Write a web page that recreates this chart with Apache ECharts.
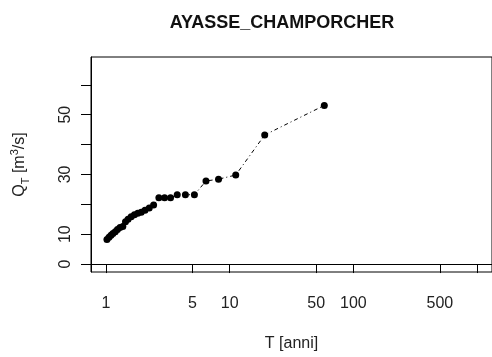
<!DOCTYPE html>
<html>
<head>
<meta charset="utf-8">
<script src="https://cdn.jsdelivr.net/npm/echarts@6/dist/echarts.min.js"></script>
<style>html,body{margin:0;padding:0;background:#fff;}#c{width:492px;height:357px;}</style>
</head>
<body>
<div id="c"></div>
<script>
var titleText = 'AYASSE_CHAMPORCHER';
var returnPeriod = [1.02,1.06,1.10,1.14,1.19,1.24,1.30,1.37,1.44,1.51,1.60,1.70,1.81,1.93,2.07,2.24,2.43,2.68,2.98,3.33,3.77,4.39,5.19,6.44,8.13,11.2,19.2,58.2];
var discharge = [8.2,9.0,9.6,10.2,10.8,11.6,12.2,12.6,14.2,15.0,15.8,16.5,17.0,17.3,18.0,18.8,19.8,22.2,22.2,22.2,23.2,23.2,23.2,27.8,28.4,29.8,43.2,53.1];
var xTickValues = [1,5,10,50,100,500,1000];
var xLabelValues = [1,5,10,50,100,500];
var yTickValues = [0,10,20,30,40,50,60];
var yLabelValues = [0,10,30,50];

var pts = returnPeriod.map(function(t,i){return [t, discharge[i]];});
var chart = echarts.init(document.getElementById('c'), null, {renderer:'canvas'});
var txt = '#222';
chart.setOption({
  animation:false,
  backgroundColor:'#fff',
  title:{text:titleText, left:277, textAlign:'center', top:9,
    textStyle:{fontFamily:'Liberation Sans', fontWeight:'bold', fontSize:18, color:'#111'}},
  grid:{left:91, top:57, width:403, bottom:83, show:true, borderColor:'#000', borderWidth:1},
  xAxis:{type:'log', logBase:10, min:0.758, max:1318,
    name:'T [anni]', nameLocation:'middle', nameGap:64,
    nameTextStyle:{fontFamily:'Liberation Sans', fontSize:16, color:txt},
    axisLine:{show:true, lineStyle:{color:'#000', width:1}},
    axisTick:{show:true, inside:false, length:9, customValues:xTickValues, lineStyle:{color:'#000'}},
    axisLabel:{customValues:xLabelValues, margin:24, fontFamily:'Liberation Sans', fontSize:16, color:txt, showMinLabel:true, showMaxLabel:true},
    splitLine:{show:false}, minorTick:{show:false}},
  yAxis:{type:'value', min:-2.66, max:69.3,
    name:'{q|Q}{sub|T}{q| [m}{sup|3}{q|/s]}', nameLocation:'middle', nameRotate:90, nameGap:60,
    nameTextStyle:{fontFamily:'Liberation Sans', fontSize:16, color:txt,
      rich:{q:{fontFamily:'Liberation Sans', fontSize:16, lineHeight:22, color:txt},
            sub:{fontFamily:'Liberation Sans', fontSize:11, lineHeight:11, verticalAlign:'bottom', color:txt},
            sup:{fontFamily:'Liberation Sans', fontSize:11, lineHeight:11, verticalAlign:'top', color:txt}}},
    axisLine:{show:true, lineStyle:{color:'#000', width:1}},
    axisTick:{show:true, inside:false, length:10, customValues:yTickValues, lineStyle:{color:'#000'}},
    axisLabel:{customValues:yLabelValues, rotate:90, margin:17, fontFamily:'Liberation Sans', fontSize:16, color:txt},
    splitLine:{show:false}},
  series:[{type:'line', data:pts, symbol:'circle', symbolSize:7, showSymbol:true,
    itemStyle:{color:'#000'},
    lineStyle:{color:'#000', width:1, type:[1,3,4,3]}}]
});
</script>
</body>
</html>
